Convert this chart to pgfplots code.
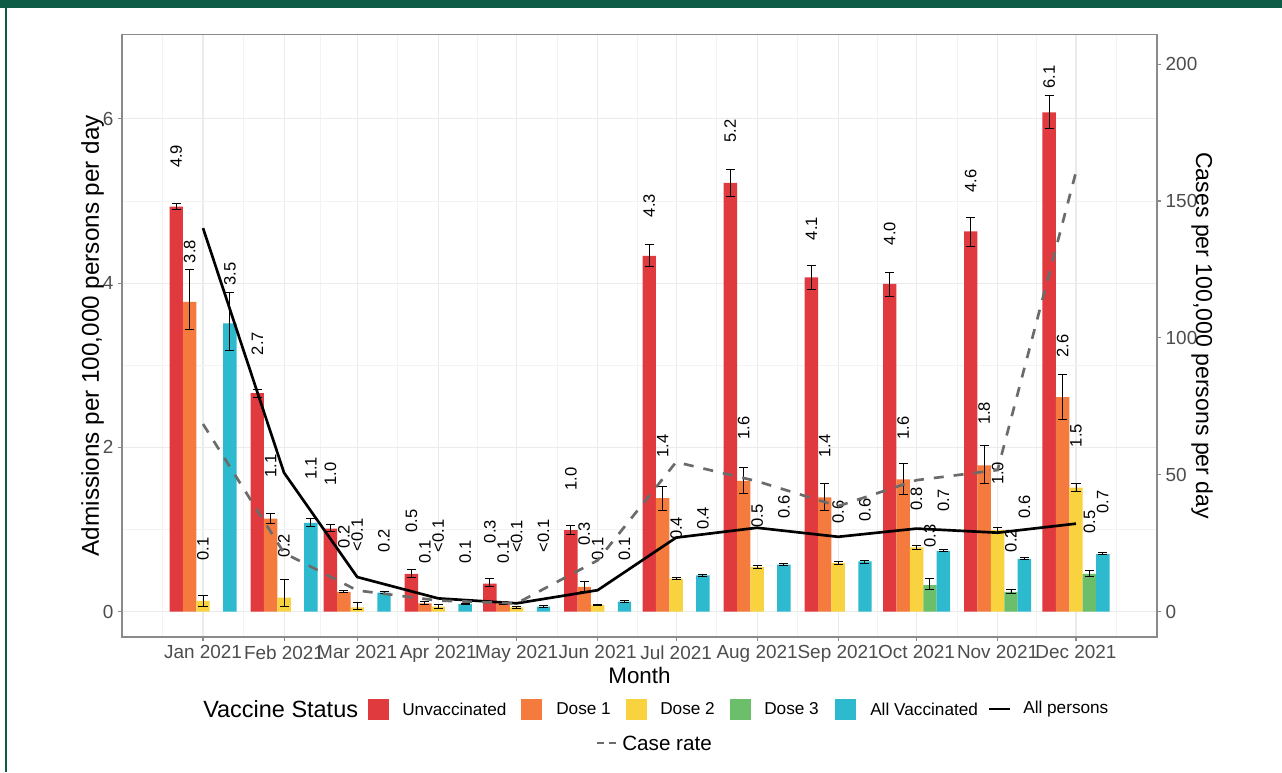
\documentclass[border=0pt]{standalone}
\usepackage{pgfplots}
\pgfplotsset{compat=1.18}
\usepackage{pgfplotstable}
\usepackage{fontspec}
\setmainfont{Liberation Sans}

\definecolor{cUnvax}{HTML}{E0393E}
\definecolor{cDoseA}{HTML}{F47A3E}
\definecolor{cDoseB}{HTML}{F8D23F}
\definecolor{cDoseC}{HTML}{6BBF6B}
\definecolor{cAllVax}{HTML}{2DBACE}
\definecolor{framegreen}{HTML}{0E5B46}
\definecolor{axisgray}{HTML}{8A8A8A}
\definecolor{tickgray}{HTML}{4D4D4D}
\definecolor{gridmaj}{HTML}{EBEBEB}
\definecolor{gridmin}{HTML}{F3F3F3}
\definecolor{casegray}{HTML}{6B6B6B}

\newcommand\fs[1]{\fontsize{#1}{#1}\selectfont}

% x = day of 2021 (first of each month); y = admissions per 100,000 per day
% lo/hi = confidence interval, lab = printed value, lpos = height of the printed value
\pgfplotstableread{
x   y    lo   hi   lab  lpos
0   4.93 4.90 4.97 4.9  5.40
31  2.66 2.61 2.71 2.7  3.12
59  1.01 0.98 1.06 1.0  1.53
90  0.46 0.42 0.51 0.5  0.96
120 0.34 0.31 0.40 0.3  0.83
151 0.99 0.94 1.05 1.0  1.47
181 4.33 4.20 4.47 4.3  4.80
212 5.22 5.06 5.38 5.2  5.71
243 4.07 3.92 4.21 4.1  4.52
273 3.99 3.84 4.13 4.0  4.46
304 4.63 4.45 4.80 4.6  5.10
334 6.08 5.88 6.29 6.1  6.37
}\unvax

\pgfplotstableread{
x   y    lo   hi   lab  lpos
0   3.77 3.43 4.16 3.8  4.24
31  1.13 1.07 1.19 1.1  1.63
59  0.24 0.23 0.26 0.2  0.77
90  0.10 0.09 0.12 0.1  0.58
120 0.10 0.08 0.12 0.1  0.58
151 0.30 0.24 0.36 0.3  0.80
181 1.38 1.23 1.52 1.4  1.87
212 1.59 1.44 1.76 1.6  2.09
243 1.39 1.23 1.56 1.4  1.87
273 1.61 1.43 1.80 1.6  2.09
304 1.78 1.56 2.02 1.8  2.27
334 2.61 2.34 2.89 2.6  3.09
}\doseone

\pgfplotstableread{
x   y    lo   hi   lab  lpos
0   0.13 0.06 0.19 0.1  0.62
31  0.17 0.06 0.39 0.2  0.66
59  0.05 0.02 0.11 <0.1 0.73
90  0.06 0.04 0.08 <0.1 0.72
120 0.05 0.04 0.06 <0.1 0.71
151 0.08 0.07 0.09 0.1  0.62
181 0.40 0.39 0.41 0.4  0.87
212 0.54 0.52 0.56 0.5  1.02
243 0.59 0.57 0.61 0.6  1.07
273 0.78 0.76 0.80 0.8  1.23
304 0.99 0.96 1.02 1.0  1.54
334 1.51 1.46 1.56 1.5  2.00
}\dosetwo

\pgfplotstableread{
x   y    lo   hi   lab  lpos
273 0.32 0.27 0.40 0.3  0.78
304 0.24 0.22 0.27 0.2  0.72
334 0.46 0.43 0.50 0.5  0.95
}\dosethree

\pgfplotstableread{
x   y    lo   hi   lab  lpos
0   3.51 3.18 3.88 3.5  3.97
31  1.08 1.03 1.13 1.1  1.60
59  0.23 0.22 0.24 0.2  0.72
90  0.09 0.08 0.10 0.1  0.58
120 0.06 0.05 0.07 <0.1 0.72
151 0.12 0.11 0.13 0.1  0.62
181 0.44 0.43 0.45 0.4  0.99
212 0.57 0.56 0.58 0.6  1.13
243 0.61 0.59 0.62 0.6  1.09
273 0.74 0.73 0.75 0.7  1.21
304 0.64 0.63 0.66 0.6  1.13
334 0.70 0.69 0.72 0.7  1.19
}\allvax

\pgfplotstableread{
x   y
0   4.67
31  1.69
59  0.42
90  0.16
120 0.10
151 0.26
181 0.90
212 1.02
243 0.91
273 1.01
304 0.96
334 1.07
}\allpersons

% cases per 100,000 persons per day
\pgfplotstableread{
x   y
0   68.5
31  21.4
59  7.7
90  4.0
120 3.0
151 18.7
181 54.6
212 47.6
243 38.5
273 48.0
304 51.7
334 160.6
}\caserate

\pgfplotsset{
  panel/.style={
    at={(91.5pt,-25.725pt)}, anchor=north west,
    scale only axis, width=776.25pt, height=452pt,
    xmin=-31, xmax=365,
    axis line style={axisgray, line width=1pt},
    tick align=outside, major tick length=3pt, minor tick length=0pt,
    tick style={axisgray, line width=0.8pt},
    ticklabel style={font=\fs{14.2}, text=tickgray},
    /pgf/number format/assume math mode=true,
  },
  status bar/.style={
    ybar, bar width=5.13, bar shift=0pt, draw=none,
    error bars/y dir=both, error bars/y explicit,
    error bars/error mark=-,
    error bars/error bar style={black, line width=0.7pt},
    error bars/error mark options={rotate=90, black, line width=0.7pt, mark size=3.4pt},
  },
  value label/.style={
    only marks, mark=none,
    point meta=explicit symbolic, nodes near coords,
    every node near coord/.append style={rotate=90, anchor=west, inner sep=0pt,
      font=\fs{12.4}, text=black},
  },
}

% #2 = dodge offset (days) of the series within each month
\newcommand\statusseries[3]{%
  \addplot[status bar, fill=#3] table[x expr=\thisrow{x}+#2, y=y,
    y error plus expr=\thisrow{hi}-\thisrow{y},
    y error minus expr=\thisrow{y}-\thisrow{lo}] {#1};
}
\newcommand\statuslabels[2]{%
  \addplot[value label] table[x expr=\thisrow{x}+#2, y=lpos, meta=lab] {#1};
}

\begin{document}
\begin{tikzpicture}
\begin{scope}[x=0.75pt, y=-0.75pt]
  \useasboundingbox (0,0) rectangle (1282,772);
  \fill[white] (0,0) rectangle (1282,772);
  \fill[framegreen] (0,0) rectangle (1282,8.3);
  \fill[framegreen] (5,0) rectangle (7.3,772);
\end{scope}

% admissions by vaccine status (left axis)
\begin{axis}[
  panel,
  ymin=-0.31, ymax=7.03,
  xtick={0,31,59,90,120,151,181,212,243,273,304,334},
  xticklabels={Jan 2021,Feb 2021,Mar 2021,Apr 2021,May 2021,Jun 2021,
    Jul 2021,Aug 2021,Sep 2021,Oct 2021,Nov 2021,Dec 2021},
  minor xtick={-15.5,15.5,45,74.5,105,135.5,166,196.5,227.5,258,288.5,319,349.5},
  ytick={0,2,4,6}, minor ytick={1,3,5},
  grid=both,
  major grid style={draw=gridmaj, line width=0.8pt},
  minor grid style={draw=gridmin, line width=0.5pt},
  tick pos=left,
  xlabel={Month},
  ylabel={Admissions per 100,000 persons per day},
  every axis x label/.style={at={(axis description cs:0.5,-0.0647)}, anchor=center, font=\fs{16.8}, text=black},
  every axis y label/.style={at={(axis description cs:-0.0285,0.5)}, rotate=90, anchor=center, font=\fs{18.2}, text=black},
]
\statusseries{\unvax}{-10.26}{cUnvax}
\statusseries{\doseone}{-5.13}{cDoseA}
\statusseries{\dosetwo}{0}{cDoseB}
\statusseries{\dosethree}{5.13}{cDoseC}
\statusseries{\allvax}{10.26}{cAllVax}

\statuslabels{\unvax}{-10.26}
\statuslabels{\doseone}{-5.13}
\statuslabels{\dosetwo}{0}
\statuslabels{\dosethree}{5.13}
\statuslabels{\allvax}{10.26}

\addplot[black, line width=2pt, mark=none] table[x=x, y=y] {\allpersons};
\end{axis}

% case rate (right axis)
\begin{axis}[
  panel,
  ymin=-9.3, ymax=210.9,
  axis x line=none, axis y line*=right,
  ytick={0,50,100,150,200},
  ylabel={Cases per 100,000 persons per day},
  every axis y label/.style={at={(axis description cs:1.0435,0.5)}, rotate=-90, anchor=center, font=\fs{17.3}, text=black},
]
\addplot[casegray, line width=2pt, dash pattern=on 7.5pt off 7.5pt, mark=none] table[x=x, y=y] {\caserate};
\end{axis}

% legend
\begin{scope}[x=0.75pt, y=-0.75pt]
  \node[anchor=west, inner sep=0pt, font=\fs{17.6}] at (203,709) {Vaccine Status};
  \fill[cUnvax]  (368,699) rectangle (389,720);
  \node[anchor=west, inner sep=0pt, font=\fs{12.9}] at (402,709) {Unvaccinated};
  \fill[cDoseA]  (521,699) rectangle (542,720);
  \node[anchor=west, inner sep=0pt, font=\fs{12.9}] at (556,709) {Dose 1};
  \fill[cDoseB]  (626,699) rectangle (647,720);
  \node[anchor=west, inner sep=0pt, font=\fs{12.9}] at (660,709) {Dose 2};
  \fill[cDoseC]  (730,699) rectangle (751,720);
  \node[anchor=west, inner sep=0pt, font=\fs{12.9}] at (764,709) {Dose 3};
  \fill[cAllVax] (835,699) rectangle (856,720);
  \node[anchor=west, inner sep=0pt, font=\fs{12.9}] at (870,709) {All Vaccinated};
  \draw[black, line width=2pt] (989,709) -- (1010,709);
  \node[anchor=west, inner sep=0pt, font=\fs{12.9}] at (1023,709) {All persons};
  \draw[casegray, line width=2pt, dash pattern=on 5pt off 4pt] (597,743) -- (617,743);
  \node[anchor=west, inner sep=0pt, font=\fs{15.5}] at (622,743) {Case rate};
\end{scope}
\end{tikzpicture}
\end{document}
